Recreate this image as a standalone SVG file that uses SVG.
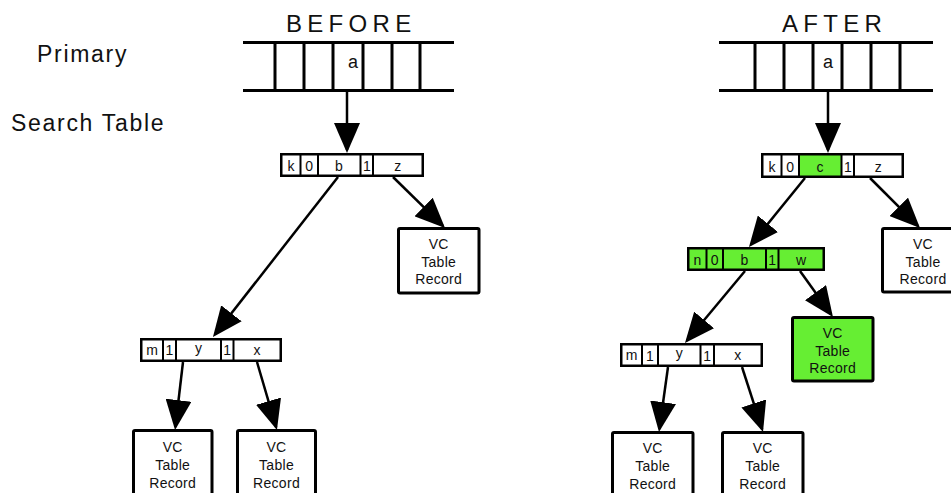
<svg xmlns="http://www.w3.org/2000/svg" width="951" height="493" viewBox="0 0 951 493">
  <style>
    text { font-family: "Liberation Sans", Arial, sans-serif; fill: #111; }
    .title { font-size: 24px; letter-spacing: 5.3px; }
    .side { font-size: 23px; letter-spacing: 1.7px; }
    .slot { font-size: 18px; text-anchor: middle; }
    .cell { font-size: 14px; text-anchor: middle; }
    .rec { font-size: 14px; letter-spacing: 0.3px; text-anchor: middle; }
    .frame { fill: #000; }
    .c { fill: #fff; }
    .g { fill: #66ee33; }
    .box { fill: #fff; stroke: #000; stroke-width: 3; }
    .box.g { fill: #66ee33; }
    .rail { stroke: #000; stroke-width: 3; fill: none; }
    .edge { stroke: #000; stroke-width: 2.5; fill: none; marker-end: url(#head); }
  </style>
  <defs>
    <marker id="head" markerUnits="userSpaceOnUse" markerWidth="30" markerHeight="26" viewBox="0 0 30 26" refX="27" refY="13" orient="auto">
      <path d="M0,0 L30,13 L0,26 z" fill="#000"/>
    </marker>
  </defs>

  <!-- column headings and row labels -->
  <text class="title" x="286" y="32">BEFORE</text>
  <text class="title" x="782" y="32">AFTER</text>
  <text class="side" x="37" y="62">Primary</text>
  <text class="side" x="11" y="131">Search Table</text>

  <!-- BEFORE: primary table -->
  <g id="primary-before">
    <path class="rail" d="M243,42.5 H454 M243,90.5 H454 M275,42 V90 M304,42 V90 M333,42 V90 M363,42 V90 M392,42 V90 M420,42 V90"/>
    <text class="slot" x="353" y="68">a</text>
  </g>

  <!-- BEFORE: root search node -->
  <g id="search-before-root">
    <rect class="frame" x="280" y="153" width="144" height="24"/>
    <rect class="c" x="282.5" y="155.5" width="17" height="19"/>
    <rect class="c" x="301.5" y="155.5" width="15.5" height="19"/>
    <rect class="c" x="319" y="155.5" width="40.5" height="19"/>
    <rect class="c" x="361.5" y="155.5" width="10.5" height="19"/>
    <rect class="c" x="374" y="155.5" width="47.5" height="19"/>
    <text class="cell" x="291" y="171">k</text>
    <text class="cell" x="309.2" y="171">0</text>
    <text class="cell" x="339" y="171">b</text>
    <text class="cell" x="366.8" y="171">1</text>
    <text class="cell" x="397.7" y="171">z</text>
  </g>

  <!-- BEFORE: child search node -->
  <g id="search-before-child">
    <rect class="frame" x="140" y="338" width="142" height="24"/>
    <rect class="c" x="142.5" y="340.5" width="19.5" height="19"/>
    <rect class="c" x="164" y="340.5" width="11" height="19"/>
    <rect class="c" x="177" y="340.5" width="43" height="19"/>
    <rect class="c" x="222" y="340.5" width="10.5" height="19"/>
    <rect class="c" x="234.5" y="340.5" width="45" height="19"/>
    <text class="cell" x="152.2" y="355">m</text>
    <text class="cell" x="169.5" y="355">1</text>
    <text class="cell" x="198.5" y="353">y</text>
    <text class="cell" x="227.2" y="355">1</text>
    <text class="cell" x="257" y="355">x</text>
  </g>

  <!-- BEFORE: VC table records -->
  <g id="record-before-z">
    <rect class="box" x="398.5" y="228.5" width="80.5" height="64.5" rx="1.5"/>
    <text class="rec" x="438.7" y="249">VC</text>
    <text class="rec" x="438.7" y="267">Table</text>
    <text class="rec" x="438.7" y="284">Record</text>
  </g>
  <g id="record-before-y">
    <rect class="box" x="133.5" y="430.5" width="78.5" height="70" rx="1.5"/>
    <text class="rec" x="172.7" y="452">VC</text>
    <text class="rec" x="172.7" y="470">Table</text>
    <text class="rec" x="172.7" y="488">Record</text>
  </g>
  <g id="record-before-x">
    <rect class="box" x="237.5" y="430.5" width="78" height="70" rx="1.5"/>
    <text class="rec" x="276.5" y="452">VC</text>
    <text class="rec" x="276.5" y="470">Table</text>
    <text class="rec" x="276.5" y="488">Record</text>
  </g>

  <!-- AFTER: primary table -->
  <g id="primary-after">
    <path class="rail" d="M719,42.5 H933 M719,90.5 H933 M755,42 V90 M784,42 V90 M813,42 V90 M842,42 V90 M871,42 V90 M900,42 V90"/>
    <text class="slot" x="828" y="68">a</text>
  </g>

  <!-- AFTER: root search node (c updated) -->
  <g id="search-after-root">
    <rect class="frame" x="761" y="153" width="143" height="25"/>
    <rect class="c" x="763.5" y="155.5" width="17" height="20"/>
    <rect class="c" x="782.5" y="155.5" width="15.5" height="20"/>
    <rect class="g" x="800" y="155.5" width="40.5" height="20"/>
    <rect class="c" x="842.5" y="155.5" width="10.5" height="20"/>
    <rect class="c" x="855" y="155.5" width="46.5" height="20"/>
    <text class="cell" x="772" y="171.5">k</text>
    <text class="cell" x="790.2" y="171.5">0</text>
    <text class="cell" x="820" y="171.5">c</text>
    <text class="cell" x="847.8" y="171.5">1</text>
    <text class="cell" x="878.2" y="171.5">z</text>
  </g>

  <!-- AFTER: inserted search node -->
  <g id="search-after-new">
    <rect class="frame" x="687" y="247" width="138" height="24"/>
    <rect class="g" x="689.5" y="249.5" width="16" height="19"/>
    <rect class="g" x="707.5" y="249.5" width="14.5" height="19"/>
    <rect class="g" x="724" y="249.5" width="41" height="19"/>
    <rect class="g" x="767" y="249.5" width="10.5" height="19"/>
    <rect class="g" x="779.5" y="249.5" width="43" height="19"/>
    <text class="cell" x="697.5" y="264.5">n</text>
    <text class="cell" x="714.7" y="264.5">0</text>
    <text class="cell" x="744.5" y="264.5">b</text>
    <text class="cell" x="772.2" y="264.5">1</text>
    <text class="cell" x="801" y="264.5">w</text>
  </g>

  <!-- AFTER: child search node -->
  <g id="search-after-child">
    <rect class="frame" x="620" y="343" width="143" height="24"/>
    <rect class="c" x="622.5" y="345.5" width="18.5" height="19"/>
    <rect class="c" x="643" y="345.5" width="14" height="19"/>
    <rect class="c" x="659" y="345.5" width="40.5" height="19"/>
    <rect class="c" x="701.5" y="345.5" width="11.5" height="19"/>
    <rect class="c" x="715" y="345.5" width="45.5" height="19"/>
    <text class="cell" x="631.7" y="360">m</text>
    <text class="cell" x="650" y="360.5">1</text>
    <text class="cell" x="679.2" y="357.5">y</text>
    <text class="cell" x="707.2" y="360.5">1</text>
    <text class="cell" x="737.7" y="360">x</text>
  </g>

  <!-- AFTER: VC table records -->
  <g id="record-after-z">
    <rect class="box" x="882.5" y="228.5" width="81" height="63.5" rx="1.5"/>
    <text class="rec" x="923" y="249">VC</text>
    <text class="rec" x="923" y="267">Table</text>
    <text class="rec" x="923" y="284">Record</text>
  </g>
  <g id="record-after-w">
    <rect class="box g" x="792.5" y="317.5" width="80.5" height="63.5" rx="1.5"/>
    <text class="rec" x="832.7" y="338">VC</text>
    <text class="rec" x="832.7" y="356">Table</text>
    <text class="rec" x="832.7" y="373">Record</text>
  </g>
  <g id="record-after-y">
    <rect class="box" x="612.5" y="432.5" width="80.5" height="70" rx="1.5"/>
    <text class="rec" x="652.7" y="453">VC</text>
    <text class="rec" x="652.7" y="471">Table</text>
    <text class="rec" x="652.7" y="489">Record</text>
  </g>
  <g id="record-after-x">
    <rect class="box" x="722.5" y="432.5" width="80.5" height="70" rx="1.5"/>
    <text class="rec" x="762.7" y="453">VC</text>
    <text class="rec" x="762.7" y="471">Table</text>
    <text class="rec" x="762.7" y="489">Record</text>
  </g>

  <!-- pointers -->
  <g id="connectors">
    <path class="edge" d="M347,90 L347,150"/>
    <path class="edge" d="M338,177 L214.8,334.6"/>
    <path class="edge" d="M393,177 L442.9,225.9"/>
    <path class="edge" d="M183,362 L175.4,427"/>
    <path class="edge" d="M257,362 L276.1,427.1"/>

    <path class="edge" d="M828,90 L828,150"/>
    <path class="edge" d="M805,178 L750.9,244.7"/>
    <path class="edge" d="M870,178 L917.9,225.9"/>
    <path class="edge" d="M800,271 L831.2,314.6"/>
    <path class="edge" d="M745,271 L686.9,340.7"/>
    <path class="edge" d="M668,367 L659.4,429"/>
    <path class="edge" d="M742,367 L762.1,429.1"/>
  </g>
</svg>
